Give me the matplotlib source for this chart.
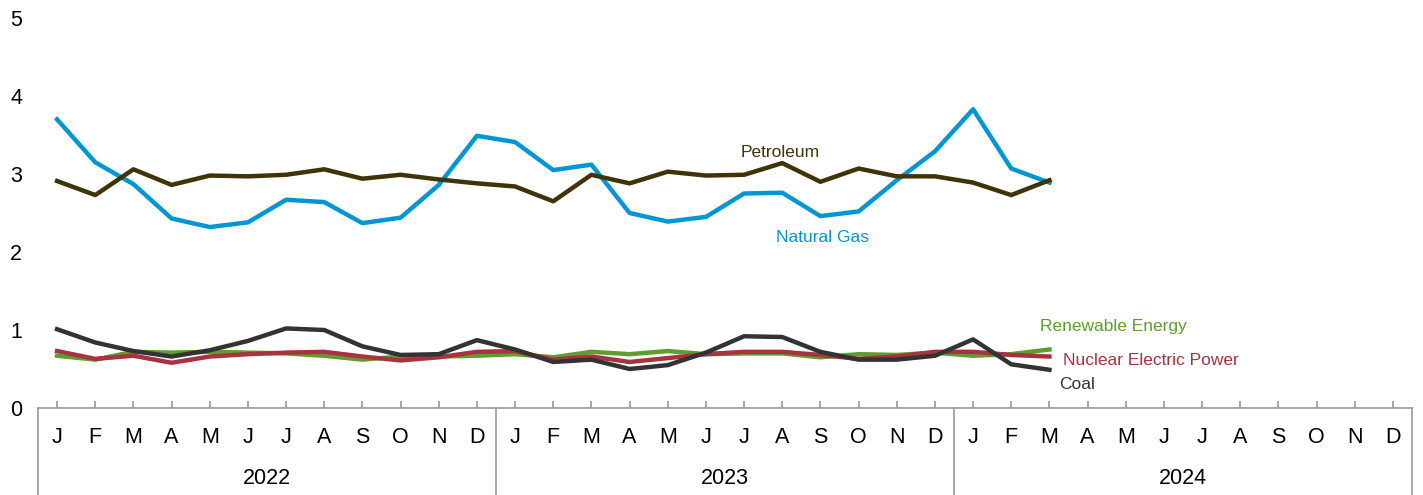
import matplotlib.pyplot as plt
import matplotlib.transforms as mtransforms

plt.rcParams['font.family'] = ['Liberation Sans', 'DejaVu Sans']

months = ['J', 'F', 'M', 'A', 'M', 'J', 'J', 'A', 'S', 'O', 'N', 'D'] * 3
years = ['2022', '2023', '2024']

natural_gas = [3.70, 3.15, 2.87, 2.43, 2.32, 2.38, 2.67, 2.64, 2.37, 2.44, 2.86, 3.49,
               3.41, 3.05, 3.12, 2.50, 2.39, 2.45, 2.75, 2.76, 2.46, 2.52, 2.92, 3.29,
               3.83, 3.07, 2.89]
petroleum = [2.91, 2.73, 3.06, 2.86, 2.98, 2.97, 2.99, 3.06, 2.94, 2.99, 2.93, 2.88,
             2.84, 2.65, 2.99, 2.88, 3.03, 2.98, 2.99, 3.14, 2.90, 3.07, 2.97, 2.97,
             2.89, 2.73, 2.92]
coal = [1.01, 0.84, 0.73, 0.66, 0.74, 0.86, 1.02, 1.00, 0.79, 0.68, 0.69, 0.87,
        0.75, 0.59, 0.62, 0.50, 0.55, 0.71, 0.92, 0.91, 0.72, 0.62, 0.62, 0.67,
        0.88, 0.56, 0.49]
renewable = [0.67, 0.62, 0.72, 0.71, 0.72, 0.71, 0.70, 0.67, 0.62, 0.66, 0.66, 0.67,
             0.69, 0.65, 0.72, 0.69, 0.73, 0.69, 0.70, 0.70, 0.65, 0.69, 0.68, 0.71,
             0.67, 0.69, 0.75]
nuclear = [0.73, 0.63, 0.67, 0.58, 0.66, 0.69, 0.71, 0.72, 0.66, 0.61, 0.65, 0.72,
           0.73, 0.62, 0.66, 0.59, 0.64, 0.69, 0.72, 0.72, 0.68, 0.63, 0.66, 0.72,
           0.72, 0.68, 0.66]

c_gas = '#0096d6'
c_pet = '#3f3308'
c_coal = '#333333'
c_ren = '#5e9e2e'
c_nuc = '#a83340'

fig = plt.figure(figsize=(14.23, 4.95), dpi=100)
ax = fig.add_axes([38/1423, 87/495, 1374/1423, 390/495])

x = range(len(natural_gas))
ax.plot(x, renewable, color=c_ren, lw=3.2)
ax.plot(x, nuclear, color=c_nuc, lw=3.2)
ax.plot(x, coal, color=c_coal, lw=3.2)
ax.plot(x, natural_gas, color=c_gas, lw=3.2)
ax.plot(x, petroleum, color=c_pet, lw=3.2)

ax.set_xlim(-0.5, 35.5)
ax.set_ylim(0, 5)
for s in ['top', 'right', 'left']:
    ax.spines[s].set_visible(False)
ax.spines['bottom'].set_color('#999999')
ax.spines['bottom'].set_linewidth(1.2)

ax.set_yticks(range(6))
ax.tick_params(axis='y', length=0, pad=20, labelsize=15.5)
for lab in ax.get_yticklabels():
    lab.set_horizontalalignment('left')

ax.set_xticks(range(36))
ax.set_xticklabels(months)
ax.tick_params(axis='x', direction='in', length=5, color='#999999', width=1.2,
               labelsize=15.5, pad=14)

trans = mtransforms.blended_transform_factory(ax.transData, ax.transAxes)
for b in [-0.5, 11.5, 23.5, 35.5]:
    ax.plot([b, b], [0, -0.225], transform=trans, color='#999999', lw=1.2, clip_on=False)
for i, yr in enumerate(years):
    ax.text(i * 12 + 5.5, -0.18, yr, transform=trans, ha='center', va='center', fontsize=15.5)

ax.text(18.95, 3.28, 'Petroleum', color=c_pet, fontsize=12.5, ha='center', va='center')
ax.text(20.05, 2.18, 'Natural Gas', color=c_gas, fontsize=12.5, ha='center', va='center')
ax.text(25.75, 1.04, 'Renewable Energy', color=c_ren, fontsize=12.5, ha='left', va='center')
ax.text(26.35, 0.61, 'Nuclear Electric Power', color=c_nuc, fontsize=12.5, ha='left', va='center')
ax.text(26.25, 0.30, 'Coal', color=c_coal, fontsize=12.5, ha='left', va='center')

fig.savefig('out.png', dpi=100)
